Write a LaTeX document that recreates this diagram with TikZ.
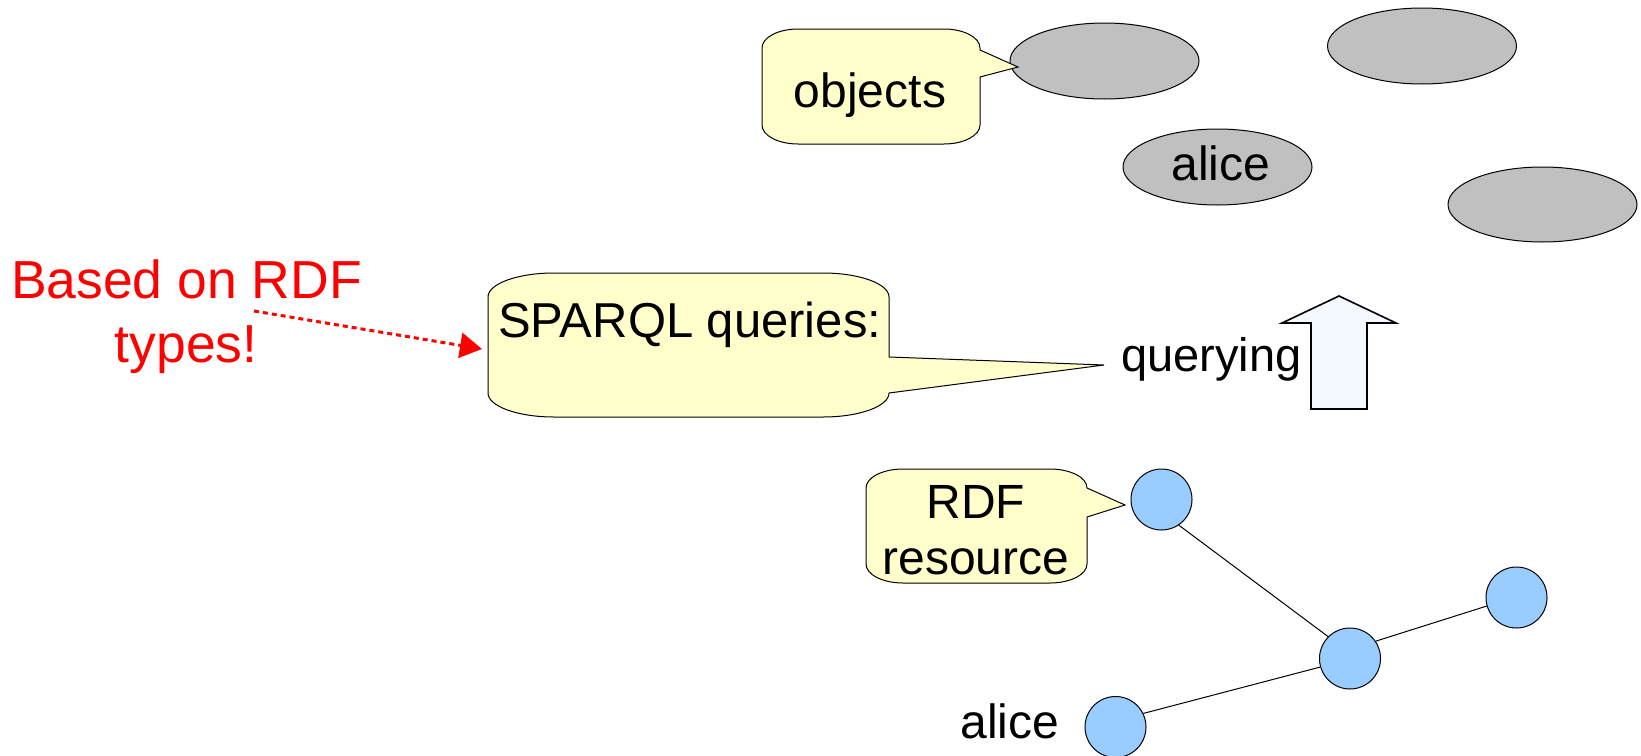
\documentclass[tikz,border=0pt]{standalone}
\usepackage{fontspec}
\setmainfont{Liberation Sans}
\usetikzlibrary{shapes.geometric,arrows.meta}

\definecolor{noteyellow}{RGB}{255,255,204}
\definecolor{objgrey}{RGB}{192,192,192}
\definecolor{resblue}{RGB}{153,204,255}
\definecolor{arrowfill}{RGB}{243,249,255}
\definecolor{notered}{RGB}{255,0,0}

% Speech bubble with elliptical corners and a wedge on its right side.
% #1 left, #2 top, #3 right, #4 bottom, #5/#6 corner radii,
% #7/#8 wedge base (y), #9 name of the wedge tip coordinate
\newcommand{\bubble}[9]{%
  \draw[callout] (#1,#2+#6)
    arc[start angle=180,end angle=90,x radius=#5pt,y radius=#6pt]
    -- (#3-#5,#2)
    arc[start angle=90,end angle=0,x radius=#5pt,y radius=#6pt]
    -- (#3,#7) -- (#9) -- (#3,#8) -- (#3,#4-#6)
    arc[start angle=0,end angle=-90,x radius=#5pt,y radius=#6pt]
    -- (#1+#5,#4)
    arc[start angle=-90,end angle=-180,x radius=#5pt,y radius=#6pt]
    -- cycle;}

\tikzset{
  callout/.style={draw=black, fill=noteyellow, line width=1pt},
  txt/.style={inner sep=0pt, anchor=base, font=\fontsize{48}{58}\selectfont},
  rednote/.style={txt, text=notered, font=\fontsize{53.5}{64}\selectfont},
  objnode/.style={ellipse, draw=black, fill=objgrey, line width=1pt,
    inner sep=0pt, minimum width=189pt, minimum height=76pt},
  resnode/.style={circle, draw=black, fill=resblue, line width=1pt,
    inner sep=0pt, minimum size=61pt},
  link/.style={line width=1pt},
  bigarrow/.style={draw=black, fill=arrowfill, line width=1.6pt, line join=miter},
  hint/.style={draw=notered, line width=3pt, dash pattern=on 5pt off 4pt,
    -{Triangle[length=22pt,width=25pt,fill=notered]}}
}

\begin{document}
\begin{tikzpicture}[x=1pt, y=-1pt]
  \useasboundingbox (0,0) rectangle (1641,755);

  % object layer
  \node[objnode] (obj1) at (1104.5,61) {};
  \node[objnode] (obj2) at (1422,46) {};
  \node[objnode] (objalice) at (1217.5,167) {};
  \node[objnode, minimum height=75pt] (obj4) at (1542.5,204.5) {};
  \node[txt] (objalicename) at (1221,180) {alice};

  % "objects" bubble
  \coordinate (objtip) at (1018,67);
  \bubble{762}{29}{980}{144}{36}{19}{50}{77}{objtip}
  \node[txt] (objects) at (870,107) {objects};

  % SPARQL bubble
  \coordinate (sparqltip) at (1104,365);
  \bubble{488}{273}{889}{417}{66}{24}{357}{393}{sparqltip}
  \node[txt, anchor=base west, font=\fontsize{49}{58}\selectfont] (sparql) at (498,337) {SPARQL queries:};

  % querying step
  \node[txt, anchor=base west, font=\fontsize{47}{56}\selectfont] (querying) at (1121,371) {querying};
  \draw[bigarrow] (1339,296) -- (1396,323) -- (1367,323) -- (1367,409)
    -- (1311,409) -- (1311,323) -- (1282,323) -- cycle;

  % RDF graph
  \node[resnode] (r1) at (1161.5,499.5) {};
  \node[resnode] (rmid) at (1350,658.5) {};
  \node[resnode] (rright) at (1516.5,597.5) {};
  \node[resnode] (ralice) at (1115.5,727) {};
  \draw[link] (r1.-56) -- (rmid.135);
  \draw[link] (rmid.34) -- (rright.196);
  \draw[link] (ralice.26) -- (rmid.196);
  \node[txt] (alicename) at (1010,738) {alice};

  % "RDF resource" bubble
  \coordinate (restip) at (1125,505);
  \bubble{866}{469}{1087}{583}{37}{19}{488}{517}{restip}
  \node[txt] (rdf) at (976,518) {RDF};
  \node[txt] (resource) at (976,574) {resource};

  % red remark
  \node[rednote] (basedon) at (186.5,298) {Based on RDF};
  \node[rednote] (types) at (186,362) {types!};
  \coordinate (hintstart) at (254,311);
  \coordinate (hintend) at (482,349);
  \draw[hint] (hintstart) -- (hintend);
\end{tikzpicture}
\end{document}
